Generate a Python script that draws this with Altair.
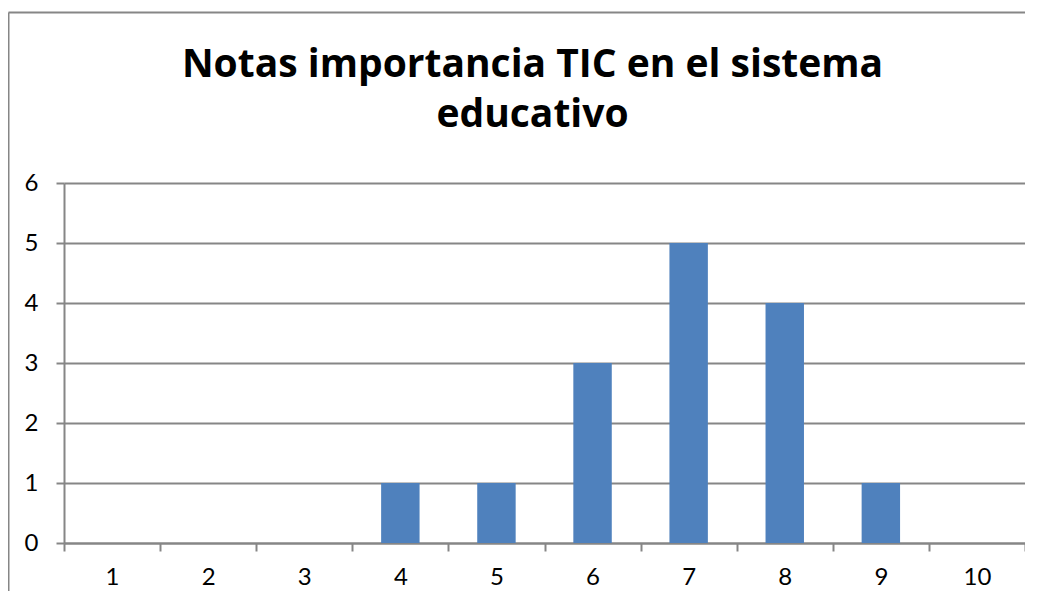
import altair as alt
import pandas as pd

notas = ["1", "2", "3", "4", "5", "6", "7", "8", "9", "10"]
frecuencia = [0, 0, 0, 1, 1, 3, 5, 4, 1, 0]
titulo = ["Notas importancia TIC en el sistema", "educativo"]
y_ticks = [0, 1, 2, 3, 4, 5, 6]

df = pd.DataFrame({"nota": notas, "frecuencia": frecuencia})
FONT = "Lato"
TITLE_FONT = "Open Sans"
GRAY = "#868686"

bars = alt.Chart(df).mark_bar(color="#4F81BD", width=alt.RelativeBandSize(0.4)).encode(
    x=alt.X(
        "nota:N",
        sort=notas,
        scale=alt.Scale(paddingInner=0, paddingOuter=0),
        axis=alt.Axis(
            title=None,
            labelAngle=0,
            labelFont=FONT,
            labelFontSize=24,
            labelColor="black",
            labelBaseline="alphabetic",
            labelPadding=33,
            tickBand="extent",
            tickSize=8,
            tickColor=GRAY,
            tickWidth=2,
            domainColor=GRAY,
            domainWidth=2,
            grid=False,
        ),
    ),
    y=alt.Y(
        "frecuencia:Q",
        scale=alt.Scale(domain=[0, 6], nice=False),
        axis=alt.Axis(
            title=None,
            values=y_ticks,
            labelFont=FONT,
            labelFontSize=24,
            labelColor="black",
            labelPadding=18,
            tickSize=8,
            tickColor=GRAY,
            tickWidth=2,
            domainColor=GRAY,
            domainWidth=2,
            grid=True,
            gridColor=GRAY,
            gridWidth=2,
        ),
    ),
)

frame_df = pd.DataFrame({"k": [0]})
border_v = alt.Chart(frame_df).mark_rule(color=GRAY, strokeWidth=2).encode(
    x=alt.value(-55.5), y=alt.value(-170.5), y2=alt.value(600)
)
border_h = alt.Chart(frame_df).mark_rule(color=GRAY, strokeWidth=2).encode(
    x=alt.value(-55.5), x2=alt.value(1100), y=alt.value(-170.5)
)

chart = alt.layer(border_v, border_h, bars).properties(
    width=961,
    height=360,
    autosize=alt.AutoSizeParams(type="none"),
    padding={"left": 56, "top": 175, "right": 0, "bottom": 48},
    title=alt.TitleParams(
        text=titulo,
        font=TITLE_FONT,
        fontSize=39,
        fontWeight="bold",
        color="black",
        lineHeight=50,
        anchor="middle",
        baseline="alphabetic",
        offset=0,
        dx=-12,
        dy=154,
    ),
).configure_view(stroke=None)

chart.save("out.html", embed_options={"renderer": "svg", "actions": False})
